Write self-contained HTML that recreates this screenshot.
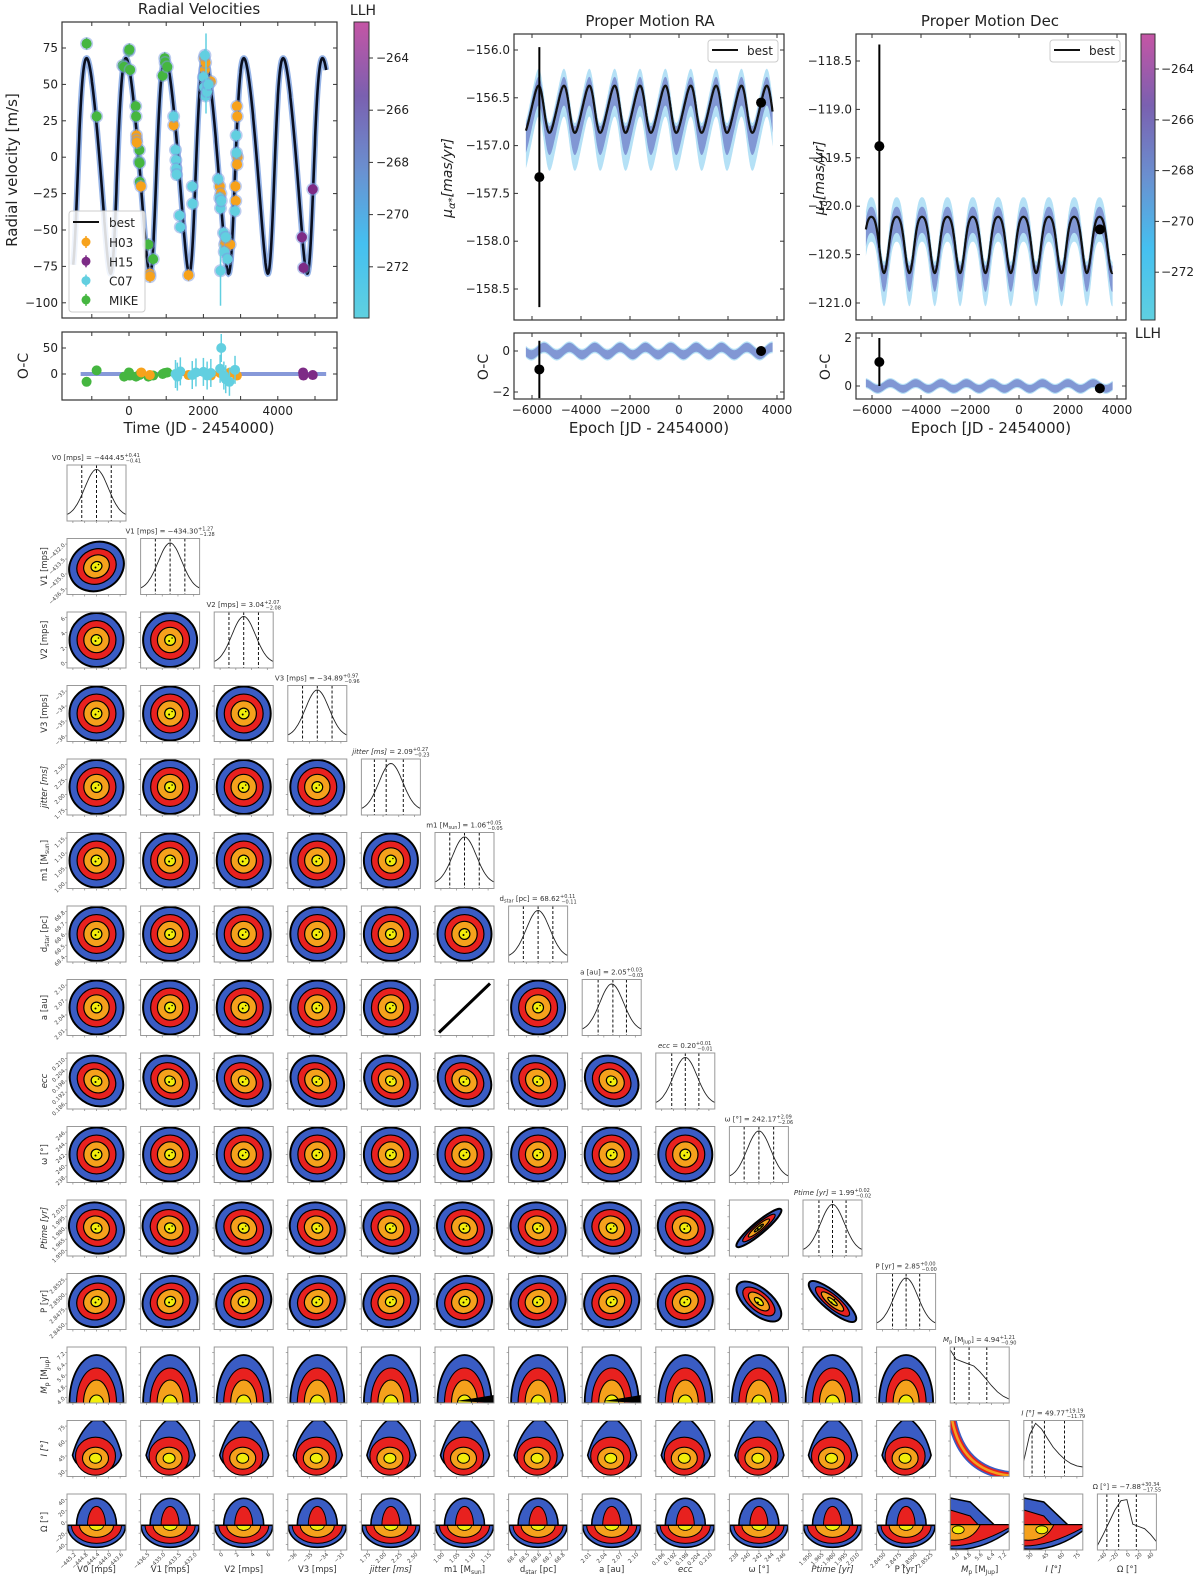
<!DOCTYPE html>
<html><head><meta charset="utf-8"><style>
html,body{margin:0;padding:0;background:#fff}
svg{display:block;font-family:"DejaVu Sans","Liberation Sans",sans-serif}
</style></head><body>
<svg id="fig" width="1200" height="1578" viewBox="0 0 1200 1578" xmlns="http://www.w3.org/2000/svg">
<defs>
<linearGradient id="cbar" x1="0" y1="1" x2="0" y2="0">
<stop offset="0" stop-color="#5fd0e0"/><stop offset="0.25" stop-color="#45c0f0"/><stop offset="0.5" stop-color="#6a90d0"/><stop offset="0.75" stop-color="#7a60b0"/><stop offset="1" stop-color="#c555a5"/>
</linearGradient>
</defs>
<g id="topPanels"></g>
<g id="corner"></g>
</svg>
<script>
// ---------- data ----------
const mikeT=[-1140,-870,-170,-130,0,10,30,180,190,280,275,285,290,520,650,905,960,970,1030];
const mikeV=[78,28,63,62,73,74,60,35,28,5,-3,-4,-17,-60,-70,56,68,65,62];
const h03T=[200,205,210,320,560,565,1200,1600,2020,2040,2060,2200,2440,2470,2570,2600,2720,2860,2870,2900,2910,2920,2905];
const h03V=[15,12,10,-20,-80,-82,22,-81,68,60,65,52,-20,-25,-60,-58,-60,-20,-30,35,28,0,-5];
const c07T=[1200,1250,1260,1270,1280,1360,1380,1700,1710,2000,2020,2040,2060,2100,2140,2400,2440,2460,2480,2540,2560,2600,2650,2850,2880,2890,2460];
const c07V=[28,5,-2,-8,-12,-40,-48,-20,-32,55,48,70,42,45,50,-15,-28,-35,-30,-52,-65,-55,-70,-37,15,3,-78];
const h15T=[4650,4690,4940];
const h15V=[-55,-76,-22];
const mikeOcT=[-1140,-870,-130,0,30,190,280,320,520,650,905,960,1030];
const mikeOcV=[-15,7,-5,3,-3,-5,-2,2,-5,-3,0,2,3];
const h03OcT=[330,560,1600,2200,2450,2570,2720,2900];
const h03OcV=[3,-2,-2,-3,2,-5,3,-3];
const c07OcT=[1250,1300,1380,1700,1800,2000,2100,2200,2450,2480,2550,2600,2700,2850];
const c07OcV=[0,-5,5,-2,3,4,-3,2,10,50,-3,-10,-15,8];
const h15OcT=[4680,4690,4940];
const h15OcV=[3,-3,-2];
const rvModel=[1057,0.2,74,242,0.95,2030]; // P,e,K,omega,gamma,tpeak
const raModel=[1035,-156.62,0.24,-5767];
const decModel=[1035,-120.40,0.29,-5510];
const raPtsT=[-5700,3350], raPtsV=[-157.33,-156.55], raPtsE=[1.36,0];
const decPtsT=[-5700,3300], decPtsV=[-119.38,-120.24], decPtsE=[1.05,0];
const raOcV=[-0.9,0], raOcE=[1.4,0];
const decOcV=[1.0,-0.1], decOcE=[1.0,0];
const rvYTicks=[75,50,25,0,-25,-50,-75,-100];
const rvXTicks=[0,2000,4000];
const raYTicks=[-156.0,-156.5,-157.0,-157.5,-158.0,-158.5];
const decYTicks=[-118.5,-119.0,-119.5,-120.0,-120.5,-121.0];
const pmXTicks=[-6000,-4000,-2000,0,2000,4000];
const cbTicks=[-264,-266,-268,-270,-272];

const SVGNS="http://www.w3.org/2000/svg";
function el(parent,tag,attrs,text){const e=document.createElementNS(SVGNS,tag);for(const k in attrs)e.setAttribute(k,attrs[k]);if(text!==undefined)e.textContent=text;parent.appendChild(e);return e;}
const topG=document.getElementById('topPanels');
const fmt=v=>(v<0?'\u2212':'')+Math.abs(v);
const fmt1=v=>(v<0?'\u2212':'')+Math.abs(v).toFixed(1);

function kepShape(t,P,e,tp){
  let M=2*Math.PI*(t-tp)/P;let E=M;for(let k=0;k<30;k++)E=E-(E-e*Math.sin(E)-M)/(1-e*Math.cos(E));
  return 2*Math.atan2(Math.sqrt(1+e)*Math.sin(E/2),Math.sqrt(1-e)*Math.cos(E/2));
}
const [rP,rE,rK,rW,rG,rTpk]=rvModel;
function rvRaw(t,tp){const nu=kepShape(t,rP,rE,tp);const w=rW*Math.PI/180;return rK*(Math.cos(nu+w)+rE*Math.cos(w))+rG;}
let bestShift=0,bestV=-1e9;for(let s=0;s<rP;s+=2){const v=rvRaw(rTpk,s);if(v>bestV){bestV=v;bestShift=s;}}
const rv=t=>rvRaw(t,bestShift);

function axesBox(g,x,y,w,h,name){const r=el(g,'rect',{x:x,y:y,width:w,height:h,fill:'none',stroke:'#333','stroke-width':1.2});}
function tickX(g,x,y0,y1,len){el(g,'line',{x1:x,y1:y1,x2:x,y2:y1-len,stroke:'#333','stroke-width':1});el(g,'line',{x1:x,y1:y0,x2:x,y2:y0+len,stroke:'#333','stroke-width':1});}
function tickY(g,y,x0,x1,len){el(g,'line',{x1:x0,y1:y,x2:x0+len,y2:y,stroke:'#333','stroke-width':1});el(g,'line',{x1:x1,y1:y,x2:x1-len,y2:y,stroke:'#333','stroke-width':1});}
function poly(pts){return pts.map(p=>p[0].toFixed(1)+','+p[1].toFixed(1)).join(' ');}

// ================= RV panel =================
{
const g=el(topG,'g',{});
const X0=62,Y0=22,W=275,H=296;
const xS=t=>129+t*0.0372, yS=v=>48+(75-v)*1.456;
el(g,'text',{x:199,y:14,'text-anchor':'middle','font-size':15,fill:'#222'},'Radial Velocities');
el(g,'text',{x:17,y:170,'text-anchor':'middle','font-size':15,fill:'#222',transform:'rotate(-90 17 170)'},'Radial velocity [m/s]');
const clip=el(el(g,'defs',{}),'clipPath',{id:'rvclip'});el(clip,'rect',{x:X0,y:Y0,width:W,height:H});
const cg=el(g,'g',{'clip-path':'url(#rvclip)'});
let pts=[];for(let t=-1500;t<=5300;t+=8)pts.push([xS(t),yS(rv(t))]);
el(cg,'polyline',{points:poly(pts),fill:'none',stroke:'#7aa0e0','stroke-width':6,opacity:0.8});
const ml=el(cg,'polyline',{points:poly(pts),fill:'none',stroke:'#0a0f20','stroke-width':2.6});
const sets=[[h03T,h03V,'#f7a21b','h03'],[h15T,h15V,'#7d2b86','h15'],[c07T,c07V,'#62cfe0','c07'],[mikeT,mikeV,'#45b640','mike']];
[sets[3],sets[0],sets[2],sets[1]].forEach(s=>{for(let k=0;k<s[0].length;k++){const x=xS(s[0][k]),y=yS(s[1][k]);
 el(cg,'line',{x1:x,y1:y-6,x2:x,y2:y+6,stroke:s[2],'stroke-width':1.5});
 el(cg,'circle',{cx:x,cy:y,r:6.5,fill:'#7a9ae0',opacity:0.5});
 const c=el(cg,'circle',{cx:x,cy:y,r:5,fill:s[2]});}});
el(cg,'line',{x1:xS(2070),y1:yS(85),x2:xS(2070),y2:yS(30),stroke:'#62cfe0','stroke-width':1.5});
el(cg,'line',{x1:xS(2460),y1:yS(-60),x2:xS(2460),y2:yS(-102),stroke:'#62cfe0','stroke-width':1.5});
axesBox(g,X0,Y0,W,H,'rv-axes');
for(let t=-1000;t<=5000;t+=1000)tickX(g,xS(t),Y0,Y0+H,4);
rvYTicks.forEach(v=>{tickY(g,yS(v),X0,X0+W,4);el(g,'text',{x:X0-4,y:yS(v)+4,'text-anchor':'end','font-size':12,fill:'#222'},fmt(v));});
const lg=el(g,'g',{});
el(lg,'rect',{x:69,y:211,width:76,height:101,rx:3,fill:'#fff','fill-opacity':0.85,stroke:'#ccc'});
el(lg,'line',{x1:73,y1:222,x2:99,y2:222,stroke:'#111','stroke-width':2});
el(lg,'text',{x:109,y:227,'font-size':12,fill:'#222'},'best');
[['H03','#f7a21b'],['H15','#7d2b86'],['C07','#62cfe0'],['MIKE','#45b640']].forEach((d,k)=>{const y=242+k*19.3;
 el(lg,'line',{x1:86,y1:y-6,x2:86,y2:y+6,stroke:d[1],'stroke-width':1.5});el(lg,'circle',{cx:86,cy:y,r:4.5,fill:d[1]});
 const t=el(lg,'text',{x:109,y:y+5,'font-size':12,fill:'#222'},d[0]);});
const cb=el(g,'rect',{x:354,y:22,width:15,height:296,fill:'url(#cbar)',stroke:'#333','stroke-width':1});
el(g,'text',{x:363,y:15,'text-anchor':'middle','font-size':14,fill:'#222'},'LLH');
cbTicks.forEach(v=>{const y=58+(-264-v)*26.1;el(g,'line',{x1:369,y1:y,x2:373,y2:y,stroke:'#333'});el(g,'text',{x:376,y:y+4,'font-size':12,fill:'#222'},fmt(v));});
const oY0=332,oH=68,yO=v=>374-v*0.52;
const clip2=el(el(g,'defs',{}),'clipPath',{id:'rvoc'});el(clip2,'rect',{x:X0,y:oY0,width:W,height:oH});
const og=el(g,'g',{'clip-path':'url(#rvoc)'});
el(og,'line',{x1:xS(-1300),y1:yO(0),x2:xS(5300),y2:yO(0),stroke:'#6a80d0','stroke-width':4,opacity:0.8});
const ocs=[[mikeOcT,mikeOcV,'#45b640',3],[h03OcT,h03OcV,'#f7a21b',3],[c07OcT,c07OcV,'#62cfe0',14],[h15OcT,h15OcV,'#7d2b86',3]];
ocs.forEach(s=>{for(let k=0;k<s[0].length;k++){const x=xS(s[0][k]),y=yO(s[1][k]);
 el(og,'line',{x1:x,y1:y-s[3],x2:x,y2:y+s[3],stroke:s[2],'stroke-width':1.5});
 const c=el(og,'circle',{cx:x,cy:y,r:5,fill:s[2]});}});
axesBox(g,X0,oY0,W,oH,'rv-oc-axes');
for(let t=-1000;t<=5000;t+=1000)tickX(g,xS(t),oY0,oY0+oH,4);
[50,0].forEach(v=>{tickY(g,yO(v),X0,X0+W,4);el(g,'text',{x:X0-4,y:yO(v)+4,'text-anchor':'end','font-size':12,fill:'#222'},v);});
el(g,'text',{x:28,y:366,'text-anchor':'middle','font-size':14,fill:'#222',transform:'rotate(-90 28 366)'},'O-C');
rvXTicks.forEach(t=>el(g,'text',{x:xS(t),y:415,'text-anchor':'middle','font-size':12,fill:'#222'},t));
el(g,'text',{x:199,y:433,'text-anchor':'middle','font-size':15,fill:'#222'},'Time (JD - 2454000)');
}

// ================= PM panels =================
function pmPanel(cfg){
const g=el(topG,'g',{});
const {X0,W,xS,yS,yO,ticks,model,ptsT,ptsV,ptsE,ocV,ocE,ocTicks,ocAmp}=cfg;
const Y0=34,H=286,oY0=333,oH=66;
const id=cfg.name+'c';
const d=el(g,'defs',{});const c1=el(d,'clipPath',{id:id});el(c1,'rect',{x:X0,y:Y0,width:W,height:H});
const c2=el(d,'clipPath',{id:id+'o'});el(c2,'rect',{x:X0,y:oY0,width:W,height:oH});
const cg=el(g,'g',{'clip-path':'url(#'+id+')'});
const [P,mid,amp,t0]=model;
const f=cfg.shape;
const bv=t=>mid+amp*f((t-t0)/P);
const tA=[];for(let t=-6250;t<=3820;t+=10)tA.push(t);
function band(up,dn,sc){const u=tA.map(t=>[xS(t),yS(mid+(bv(t)-mid)*sc+up)]);const l=tA.slice().reverse().map(t=>[xS(t),yS(mid+(bv(t)-mid)*sc-dn)]);return poly(u.concat(l));}
el(cg,'polygon',{points:band(cfg.b1[0],cfg.b1[1],1.15),fill:'#a8dcf4',opacity:0.85});
el(cg,'polygon',{points:band(cfg.b2[0],cfg.b2[1],1.05),fill:'#7484cc',opacity:0.8});
const best=tA.map(t=>[xS(t),yS(bv(t))]);
const bl=el(cg,'polyline',{points:poly(best),fill:'none',stroke:'#111','stroke-width':2.2});
for(let k=0;k<ptsT.length;k++){const x=xS(ptsT[k]),y=yS(ptsV[k]);
 if(ptsE[k])el(cg,'line',{x1:x,y1:yS(ptsV[k]+ptsE[k]),x2:x,y2:yS(ptsV[k]-ptsE[k]),stroke:'#000','stroke-width':2});
 const c=el(cg,'circle',{cx:x,cy:y,r:5,fill:'#000'});}
axesBox(g,X0,Y0,W,H,cfg.name+'-axes');
for(let t=-6000;t<=4000;t+=2000)tickX(g,xS(t),Y0,Y0+H,4);
ticks.forEach(v=>{tickY(g,yS(v),X0,X0+W,4);el(g,'text',{x:X0-4,y:yS(v)+4,'text-anchor':'end','font-size':12,fill:'#222'},fmt1(v));});
el(g,'text',{x:cfg.tx,y:26,'text-anchor':'middle','font-size':15,fill:'#222'},cfg.title);
const lg=el(g,'g',{});
el(lg,'rect',{x:X0+W-76,y:40,width:70,height:22,rx:3,fill:'#fff',stroke:'#ccc'});
el(lg,'line',{x1:X0+W-72,y1:50,x2:X0+W-46,y2:50,stroke:'#111','stroke-width':2});
el(lg,'text',{x:X0+W-37,y:55,'font-size':12,fill:'#222'},'best');
const yl=el(g,'text',{x:cfg.ylx,y:178,'text-anchor':'middle','font-size':14,fill:'#222','font-style':'italic',transform:'rotate(-90 '+cfg.ylx+' 178)'});

el(yl,'tspan',{},'\u03bc');el(yl,'tspan',{'font-size':10,dy:3},cfg.sub);el(yl,'tspan',{dy:-3},'[mas/yr]');
const og=el(g,'g',{'clip-path':'url(#'+id+'o)'});
const wv=t=>ocAmp*Math.sin(2*Math.PI*(t-t0)/P);
function oband(w){const u=tA.map(t=>[xS(t),yO(wv(t)+w)]);const l=tA.slice().reverse().map(t=>[xS(t),yO(wv(t)-w)]);return poly(u.concat(l));}
el(og,'polygon',{points:oband(cfg.ow*1.3),fill:'#a8dcf4',opacity:0.85});
el(og,'polygon',{points:oband(cfg.ow),fill:'#7484cc',opacity:0.8});
for(let k=0;k<ptsT.length;k++){const x=xS(ptsT[k]),y=yO(ocV[k]);
 if(ocE[k])el(og,'line',{x1:x,y1:yO(ocV[k]+ocE[k]),x2:x,y2:yO(ocV[k]-ocE[k]),stroke:'#000','stroke-width':2});
 const c=el(og,'circle',{cx:x,cy:y,r:5,fill:'#000'});}
axesBox(g,X0,oY0,W,oH,cfg.name+'-oc-axes');
for(let t=-6000;t<=4000;t+=2000)tickX(g,xS(t),oY0,oY0+oH,4);
ocTicks.forEach(v=>{tickY(g,yO(v),X0,X0+W,4);el(g,'text',{x:X0-4,y:yO(v)+4,'text-anchor':'end','font-size':12,fill:'#222'},fmt(v));});
el(g,'text',{x:X0-26,y:367,'text-anchor':'middle','font-size':14,fill:'#222',transform:'rotate(-90 '+(X0-26)+' 367)'},'O-C');
pmXTicks.forEach(t=>el(g,'text',{x:xS(t),y:414,'text-anchor':'middle','font-size':12,fill:'#222'},fmt(t)));
el(g,'text',{x:X0+W/2,y:433,'text-anchor':'middle','font-size':15,fill:'#222'},'Epoch [JD - 2454000)');
}
pmPanel({name:'pm-ra',title:'Proper Motion RA',tx:650,X0:514,W:270,xS:t=>532+(t+6000)*0.0245,yS:v=>50+(-156-v)*95.6,yO:v=>351-v*20.5,
 ticks:raYTicks,model:raModel,ptsT:raPtsT,ptsV:raPtsV,ptsE:raPtsE,ocV:raOcV,ocE:raOcE,ocTicks:[0,-2],ocAmp:0.18,
 shape:p=>Math.cos(2*Math.PI*p)+0.12*Math.sin(4*Math.PI*p),b1:[0.14,0.36],b2:[0.08,0.22],ow:0.22,ylx:452,sub:'\u03b1*'});
pmPanel({name:'pm-dec',title:'Proper Motion Dec',tx:990,X0:856,W:270,xS:t=>872+(t+6000)*0.0245,yS:v=>61+(-118.5-v)*96.8,yO:v=>386-v*24,
 ticks:decYTicks,model:decModel,ptsT:decPtsT,ptsV:decPtsV,ptsE:decPtsE,ocV:decOcV,ocE:decOcE,ocTicks:[2,0],ocAmp:0.12,
 shape:p=>{const c=Math.cos(2*Math.PI*p);return -(c-0.35*(1-c*c));},b1:[0.16,0.3],b2:[0.09,0.18],ow:0.16,ylx:824,sub:'\u03b4'});
{const g=el(topG,'g',{});
el(g,'rect',{x:1141,y:34,width:14,height:286,fill:'url(#cbar)',stroke:'#333','stroke-width':1});
cbTicks.forEach(v=>{const y=69+(-264-v)*25.4;el(g,'line',{x1:1155,y1:y,x2:1159,y2:y,stroke:'#333'});el(g,'text',{x:1161,y:y+4,'font-size':12,fill:'#222'},fmt(v));});
el(g,'text',{x:1148,y:338,'text-anchor':'middle','font-size':14,fill:'#222'},'LLH');}

// ================= Corner plot =================
const pNames=[['V0 [mps]'],['V1 [mps]'],['V2 [mps]'],['V3 [mps]'],['jitter [ms]'],['m1 [M','sun',']'],['d','star',' [pc]'],['a [au]'],['ecc'],['\u03c9 [\u00b0]'],['Ptime [yr]'],['P [yr]'],['M','p',' [M','Jup',']'],['I [\u00b0]'],['\u03a9 [\u00b0]']];
const pMed=['\u2212444.45','\u2212434.30','3.04','\u221234.89','2.09','1.06','68.62','2.05','0.20','242.17','1.99','2.85','4.94','49.77','\u22127.88'];
const pUp=['+0.41','+1.27','+2.07','+0.97','+0.27','+0.05','+0.11','+0.03','+0.01','+2.09','+0.02','+0.00','+1.21','+19.19','+30.34'];
const pLo=['\u22120.41','\u22121.28','\u22122.08','\u22120.96','\u22120.23','\u22120.05','\u22120.11','\u22120.03','\u22120.01','\u22122.06','\u22120.02','\u22120.00','\u22120.90','\u221211.79','\u221217.55'];
const pTicks=[['\u2212445.2','\u2212444.8','\u2212444.4','\u2212444.0','\u2212443.6'],['\u2212436.5','\u2212435.0','\u2212433.5','\u2212432.0'],['0','2','4','6'],['\u221236','\u221235','\u221234','\u221233'],['1.75','2.00','2.25','2.50'],['1.00','1.05','1.10','1.15'],['68.4','68.5','68.6','68.7','68.8'],['2.01','2.04','2.07','2.10'],['0.186','0.192','0.198','0.204','0.210'],['238','240','242','244','246'],['1.950','1.965','1.980','1.995','2.010'],['2.8450','2.8475','2.8500','2.8525'],['4.0','4.8','5.6','6.4','7.2'],['30','45','60','75'],['\u221240','\u221220','0','20','40']];
const mpPost=[0.95,0.78,0.74,0.70,0.66,0.56,0.44,0.31,0.20,0.12,0.07];
const incPost=[0.28,0.75,0.95,0.85,0.68,0.52,0.40,0.30,0.23,0.19,0.17];
const omPost=[0.08,0.28,0.50,0.72,0.88,0.90,0.46,0.42,0.38,0.28,0.15];
const diagQ=[[0.25,0.5,0.75],[0.25,0.5,0.75],[0.25,0.5,0.75],[0.25,0.5,0.75],[0.22,0.42,0.71],[0.25,0.5,0.75],[0.25,0.5,0.75],[0.27,0.52,0.75],[0.27,0.5,0.73],[0.25,0.5,0.75],[0.27,0.5,0.73],[0.27,0.5,0.73],[0.07,0.32,0.62],[0.14,0.35,0.69],[0.16,0.36,0.66]];

const cornerG=document.getElementById('corner');
const N=15,CL=67,CT=465,DX=73.6,DY=73.5,CW=59,CH=56;
const BL='#3a5cc4',RD='#e8211f',OR='#f5a11c',YE='#f2ee0a';
const cols=[BL,RD,OR,YE];
function ell(g,cx,cy,rx,ry,rot,fill,sw){return el(g,'ellipse',{cx:cx,cy:cy,rx:rx,ry:ry,fill:fill,stroke:'#000','stroke-width':sw,transform:'rotate('+rot+' '+cx+' '+cy+')'});}
function rings(g,cx,cy,rx,ry,rot){const sc=[1,0.72,0.47,0.2];
 sc.forEach((s,k)=>ell(g,cx,cy,rx*s,ry*s,rot,cols[k],k==0?2:1.2));
 el(g,'circle',{cx:cx-1,cy:cy+1,r:1,fill:'#000'});el(g,'circle',{cx:cx+2,cy:cy-2,r:0.8,fill:'#000'});}
function halfEll(cx,cy,rx,ry,up){return 'M'+(cx-rx)+','+cy+' A'+rx+','+ry+' 0 0 '+(up?1:0)+' '+(cx+rx)+','+cy+' Z';}
for(let i=0;i<N;i++){for(let j=0;j<=i;j++){
 const L=CL+j*DX,T=CT+i*DY,cx=L+CW/2,cy=T+CH/2;
 const g=el(cornerG,'g',{});
 
 
 const cid='cc'+i+'_'+j;const cp=el(el(g,'defs',{}),'clipPath',{id:cid});el(cp,'rect',{x:L,y:T,width:CW,height:CH});
 const ig=el(g,'g',{'clip-path':'url(#'+cid+')'});
 if(i==j){
  let pts=[];
  if(i<12){for(let k=0;k<=40;k++){const u=k/40;pts.push([L+u*CW,T+CH*(0.92-0.84*Math.exp(-Math.pow((u-0.5)/0.2,2)/2))]);}}
  else{const arr=i==12?mpPost:(i==13?incPost:omPost);arr.forEach((v,k)=>pts.push([L+k/(arr.length-1)*CW,T+CH*(1-v)]));}
  el(ig,'polyline',{points:poly(pts),fill:'none',stroke:'#222','stroke-width':0.9});
  diagQ[i].forEach(q=>el(ig,'line',{x1:L+q*CW,y1:T,x2:L+q*CW,y2:T+CH,stroke:'#111','stroke-width':1,'stroke-dasharray':'3 2'}));
  const tt=el(g,'text',{x:cx,y:T-5,'text-anchor':'middle','font-size':7,fill:'#333'});
  const nm=pNames[i];
  nm.forEach((p,k)=>{const ts=el(tt,'tspan',{},p);if(k%2==1){ts.setAttribute('font-size',5);ts.setAttribute('dy',1.5);}else if(k>0){ts.setAttribute('dy',-1.5);}if(k==0&&(i==4||i==8||i==10||i==13||i==12))ts.setAttribute('font-style','italic');});
  el(tt,'tspan',{},' = '+pMed[i]);
  el(tt,'tspan',{'font-size':5,dy:-3},pUp[i]);
  el(tt,'tspan',{'font-size':5,dy:5.5,dx:-(pUp[i].length*2.8)},pLo[i]);
 } else {
  if(i==7&&j==5){el(ig,'line',{x1:L+4,y1:T+CH-3,x2:L+CW-4,y2:T+4,stroke:'#000','stroke-width':3});}
  else if(i==10&&j==9){rings(ig,cx,cy,29,6,-40);}
  else if(i==11&&j==9){rings(ig,cx,cy,27,13,40);}
  else if(i==11&&j==10){rings(ig,cx,cy,30,9,40);}
  else if(i==12){const by=T+CH;[[27,48],[20,35],[13,23],[7,8]].forEach((r,q)=>el(ig,'path',{d:halfEll(cx,by,r[0],r[1],true),fill:cols[q],stroke:'#000','stroke-width':q==0?1.8:1.1}));
   if(j==5||j==7)el(ig,'path',{d:'M'+(cx-8)+','+(by-2)+' L'+(L+CW)+','+(by-8)+' L'+(L+CW)+','+by+' Z',fill:'#000'});}
  else if(i==13&&j==12){[[9,BL],[6,RD],[2.5,OR]].forEach(s=>el(ig,'path',{d:'M'+(L+2)+','+(T)+' Q'+(L+12)+','+(T+CH-6)+' '+(L+CW)+','+(T+CH-1),fill:'none',stroke:s[1],'stroke-width':s[0]}));}
  else if(i==13){const ty=T+CH*0.62;
   el(ig,'path',{d:'M'+(cx-24)+','+(ty)+' Q'+(cx-18)+','+(T+12)+' '+(cx-4)+','+(T)+' L'+(cx+6)+','+T+' Q'+(cx+20)+','+(T+12)+' '+(cx+25)+','+ty+' A25,21 0 0 1 '+(cx-24)+','+ty+'Z',fill:BL,stroke:'#000','stroke-width':1.6});
   ell(ig,cx-1,ty+1,20,19,0,RD,1.1);ell(ig,cx-1,ty+3,13,11,0,OR,1.1);ell(ig,cx-1,ty+3,6,5,0,YE,1);}
  else if(i==14&&(j==12||j==13)){const my=T+CH*0.55;
   el(ig,'path',{d:'M'+L+','+(T+4)+' L'+(L+20)+','+(T+8)+' L'+(L+44)+','+my+' L'+L+','+my+'Z',fill:BL,stroke:'#000','stroke-width':1.5});
   el(ig,'path',{d:'M'+L+','+(T+16)+' L'+(L+20)+','+(T+22)+' L'+(L+28)+','+my+' L'+L+','+my+'Z',fill:RD,stroke:'#000','stroke-width':1});
   el(ig,'path',{d:'M'+L+','+my+' L'+(L+CW)+','+my+' L'+(L+CW)+','+(my+6)+' Q'+(L+30)+','+(T+CH+2)+' '+L+','+(T+CH-1)+'Z',fill:BL,stroke:'#000','stroke-width':1.5});
   el(ig,'path',{d:'M'+L+','+my+' L'+(L+CW)+','+my+' L'+(L+CW)+','+(my+3)+' Q'+(L+26)+','+(T+CH-4)+' '+L+','+(T+CH-4)+'Z',fill:RD,stroke:'#000','stroke-width':1});
   el(ig,'path',{d:'M'+L+','+my+' L'+(L+30)+','+my+' Q'+(L+22)+','+(T+CH-8)+' '+L+','+(T+CH-10)+'Z',fill:OR,stroke:'#000','stroke-width':1});
   ell(ig,L+(j==12?8:18),my+5,6,4,0,YE,0.8);}
  else if(i==14){const my=T+CH*0.56;
   el(ig,'path',{d:halfEll(cx,my,20,27,true),fill:BL,stroke:'#000','stroke-width':1.6});
   el(ig,'path',{d:halfEll(cx,my,9,19,true),fill:RD,stroke:'#000','stroke-width':1});
   el(ig,'path',{d:halfEll(cx,my,29,22,false),fill:BL,stroke:'#000','stroke-width':1.6});
   el(ig,'path',{d:halfEll(cx,my,25,18,false),fill:RD,stroke:'#000','stroke-width':1});
   el(ig,'path',{d:halfEll(cx,my,17,12,false),fill:OR,stroke:'#000','stroke-width':1});
   el(ig,'path',{d:halfEll(cx,my,7,5,false),fill:YE,stroke:'#000','stroke-width':0.8});
   el(ig,'line',{x1:L,y1:my,x2:L+CW,y2:my,stroke:'#000','stroke-width':1});}
  else{let rx=27,ry=27,rot=0;if(i==1&&j==0){rx=28;ry=24;rot=-25;}if(i==8){rx=28;ry=24;rot=35;}if(i==10&&j<9){rx=28;ry=25;rot=25;}if(i==11&&j<9){rx=28;ry=25;rot=-25;}
   rings(ig,cx,cy,rx,ry,rot);}
 }
 el(g,'rect',{x:L,y:T,width:CW,height:CH,fill:'none',stroke:'#999','stroke-width':1});
 const nt=pTicks[j].length;for(let q=0;q<nt;q++){const x=L+CW*(0.1+0.8*q/(nt-1));el(g,'line',{x1:x,y1:T+CH,x2:x,y2:T+CH+2,stroke:'#888','stroke-width':0.7});}
 if(i!=j){const nr=pTicks[i].length;for(let q=0;q<nr;q++){const y=T+CH*(0.9-0.8*q/(nr-1));el(g,'line',{x1:L,y1:y,x2:L-2,y2:y,stroke:'#888','stroke-width':0.7});
   if(j==0){const tx=L-3;el(g,'text',{x:tx,y:y+2,'text-anchor':'end','font-size':5.5,fill:'#444',transform:'rotate(-45 '+tx+' '+y+')'},pTicks[i][q]);}}}
 if(i==N-1){for(let q=0;q<nt;q++){const x=L+CW*(0.1+0.8*q/(nt-1));const ty=T+CH+4;el(g,'text',{x:x+2,y:ty+3,'text-anchor':'end','font-size':5.5,fill:'#444',transform:'rotate(-45 '+x+' '+ty+')'},pTicks[j][q]);}}
}}
function labelText(parent,x,y,k,rot){const t=el(parent,'text',{x:x,y:y,'text-anchor':'middle','font-size':8.5,fill:'#333'});if(rot)t.setAttribute('transform','rotate(-90 '+x+' '+y+')');
 pNames[k].forEach((p,q)=>{const ts=el(t,'tspan',{},p);if(q%2==1){ts.setAttribute('font-size',6);ts.setAttribute('dy',2);}else if(q>0){ts.setAttribute('dy',-2);}if(q==0&&(k==4||k==10||k==13||k==8||k==12))ts.setAttribute('font-style','italic');});return t;}
for(let i=1;i<N;i++){const t=labelText(cornerG,47,CT+i*DY+CH/2,i,true);}
for(let j=0;j<N;j++){const t=labelText(cornerG,CL+j*DX+CW/2,1572,j,false);}
</script>
</body></html>
